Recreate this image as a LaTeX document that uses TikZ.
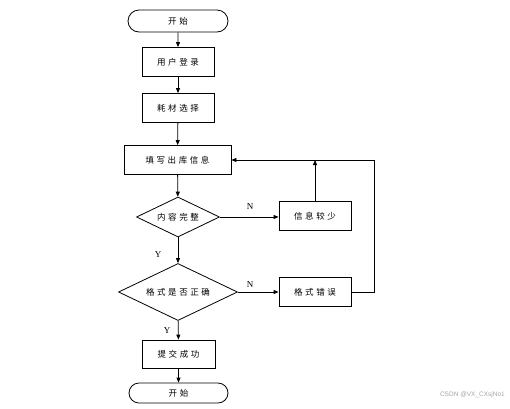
\documentclass[tikz,border=0pt]{standalone}
\usepackage{fontspec}
\newfontfamily\cjk[LetterSpace=30]{Noto Sans CJK SC}
\newfontfamily\lbl{Liberation Serif}
\newfontfamily\wm{Liberation Sans}
\usetikzlibrary{shapes.geometric,shapes.misc,arrows.meta}
\begin{document}
\begin{tikzpicture}[x=1pt,y=-1pt,
  every node/.style={font=\cjk\fontsize{8.5}{10}\selectfont},
  proc/.style={draw,line width=0.8pt,rectangle,inner sep=0pt,minimum height=29pt},
  term/.style={draw,line width=0.8pt,rounded rectangle,inner sep=0pt},
  dec/.style={draw,line width=0.8pt,diamond,inner sep=0pt,shape aspect=2.08},
  conn/.style={line width=0.8pt,-{Triangle[length=5pt,width=4pt]}},
  plain/.style={line width=0.8pt},
  yn/.style={font=\lbl\fontsize{9}{10}\selectfont,inner sep=0pt}]
\useasboundingbox (0,0) rectangle (510,408);
\node[term,minimum width=100pt,minimum height=22pt] (start) at (178,21) {开始};
\node[proc,minimum width=72pt] (login) at (178,62) {用户登录};
\node[proc,minimum width=72pt] (select) at (178,108) {耗材选择};
\node[proc,minimum width=107pt] (fill) at (177.5,160) {填写出库信息};
\node[dec,minimum width=83pt,minimum height=40pt] (d1) at (178,217) {内容完整};
\node[proc,minimum width=72pt] (less) at (315,216) {信息较少};
\node[dec,minimum width=119pt,minimum height=57pt] (d2) at (178,292) {格式是否正确};
\node[proc,minimum width=72pt] (err) at (315,292) {格式错误};
\node[proc,minimum width=73pt,minimum height=28pt] (submit) at (178.5,354) {提交成功};
\node[term,minimum width=99pt,minimum height=20pt] (end) at (178.5,393) {开始};
\coordinate (rc) at (374,292);
\coordinate (rt) at (374,160);
\draw[conn] (start) -- (login);
\draw[conn] (login) -- (select);
\draw[conn] (select) -- (fill);
\draw[conn] (fill) -- (d1);
\draw[conn] (d1) -- (d1 -| less.west);
\draw[conn] (less.north) -- (less.north |- fill.east);
\draw[conn] (d1) -- (d2);
\draw[conn] (d2) -- (err);
\draw[conn] (err.east) -- (rc) -- (rt) -- (fill.east);
\draw[conn] (d2) -- (submit);
\draw[conn] (submit) -- (end);
\node[yn] (n1) at (250,207) {N};
\node[yn] (y1) at (158,255) {Y};
\node[yn] (n2) at (250,285) {N};
\node[yn] (y2) at (167,331) {Y};
\node[font=\wm\fontsize{6.5}{8}\selectfont,text=gray!70,anchor=east,inner sep=0pt] (wm) at (505,395) {CSDN @VX\_CXsjNo1};
\end{tikzpicture}
\end{document}
